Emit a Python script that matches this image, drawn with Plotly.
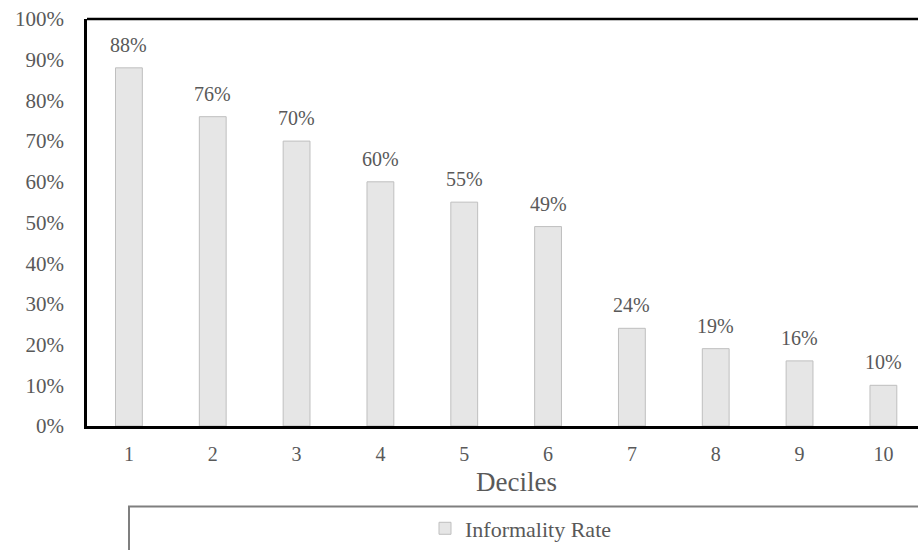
import plotly.graph_objects as go

# Informality rate by income decile
deciles = [1, 2, 3, 4, 5, 6, 7, 8, 9, 10]
informality_rate = [0.88, 0.76, 0.70, 0.60, 0.55, 0.49, 0.24, 0.19, 0.16, 0.10]
y_ticks = [0, 0.1, 0.2, 0.3, 0.4, 0.5, 0.6, 0.7, 0.8, 0.9, 1.0]

FONT = "Liberation Serif"
TEXT_GRAY = "#595959"

W, H = 918, 550
L, R, T, B = 87, 0, 19, 122
pw, ph = W - L - R, H - T - B


def px_x(px):
    return (px - L) / pw


def px_y(py):
    return (H - B - py) / ph


fig = go.Figure()
fig.add_trace(go.Bar(
    x=deciles,
    y=informality_rate,
    name="Informality Rate",
    width=0.32,
    marker=dict(color="#e6e6e6", line=dict(color="#bfbfbf", width=1)),
))

# value labels above each bar
for d, v in zip(deciles, informality_rate):
    fig.add_annotation(
        x=d, y=v, xref="x", yref="y",
        text=f"{v:.0%}", showarrow=False,
        yanchor="bottom", yshift=10,
        font=dict(family=FONT, size=20, color=TEXT_GRAY),
    )

# x-axis title
fig.add_annotation(
    x=px_x(516), y=px_y(484), xref="paper", yref="paper",
    xanchor="center", yanchor="middle",
    text="Deciles", showarrow=False,
    font=dict(family=FONT, size=27, color=TEXT_GRAY),
)

# legend frame
fig.add_shape(
    type="rect", xref="paper", yref="paper",
    x0=px_x(129), x1=px_x(1000), y0=px_y(509), y1=px_y(620),
    line=dict(color="#7f7f7f", width=2), fillcolor="rgba(0,0,0,0)",
    layer="above",
)

# plot frame: top border line (left and bottom are axis lines)
fig.add_shape(
    type="line", xref="paper", yref="paper",
    x0=0, x1=1.02, y0=1, y1=1,
    line=dict(color="black", width=2.5),
)

spacing = 83.83
fig.update_layout(
    width=W, height=H,
    margin=dict(l=L, r=R, t=T, b=B),
    paper_bgcolor="white", plot_bgcolor="white",
    font=dict(family=FONT, size=20, color=TEXT_GRAY),
    showlegend=True,
    legend=dict(
        orientation="h",
        x=px_x(425), y=px_y(531), xanchor="left", yanchor="middle",
        font=dict(family=FONT, size=22, color=TEXT_GRAY),
        itemwidth=30,
        bgcolor="rgba(0,0,0,0)",
    ),
    xaxis=dict(
        range=[0.5, 0.5 + pw / spacing],
        tickmode="array", tickvals=deciles, ticktext=[str(d) for d in deciles],
        showgrid=False, zeroline=False,
        showline=True, linecolor="black", linewidth=2.5,
        ticks="", ticklabelstandoff=8,
        tickfont=dict(family=FONT, size=20, color=TEXT_GRAY),
    ),
    yaxis=dict(
        range=[0, 1],
        tickmode="array", tickvals=y_ticks,
        tickformat=".0%",
        showgrid=False, zeroline=False,
        showline=True, linecolor="black", linewidth=2.5,
        ticks="", ticklabelstandoff=16,
        tickfont=dict(family=FONT, size=21, color=TEXT_GRAY),
    ),
)

fig.write_html("out.html")
